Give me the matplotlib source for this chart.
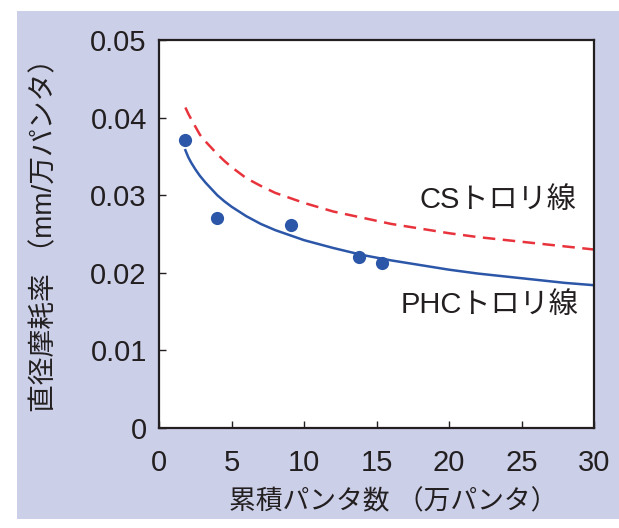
import matplotlib
matplotlib.use('Agg')
import matplotlib.pyplot as plt
from matplotlib.patches import Rectangle

plt.rcParams['font.family'] = ['Liberation Sans', 'Noto Sans CJK JP']

# measured points (PHC)
pts_x = [1.8, 4.0, 9.1, 13.8, 15.4]
pts_y = [0.0371, 0.0271, 0.0262, 0.0221, 0.0212]

# curves
curve_x = [1.8, 2.0, 2.2, 2.5, 2.8, 3.2, 3.6, 4, 4.5, 5, 6, 7, 8, 10, 12, 14, 16,
           18, 20, 22, 25, 28, 30]
phc_y = [0.0358, 0.0349, 0.0342, 0.0333, 0.0325, 0.0316, 0.0308, 0.0300, 0.0292,
         0.0285, 0.0273, 0.0263, 0.0255, 0.0242, 0.0232, 0.0223, 0.0216,
         0.0210, 0.0204, 0.0199, 0.0193, 0.0187, 0.0184]
cs_y = [0.0413, 0.0405, 0.0398, 0.0388, 0.0378, 0.0369, 0.0361, 0.0353, 0.0344,
        0.0336, 0.0322, 0.0312, 0.0303, 0.0290, 0.0279, 0.0271, 0.0263,
        0.0257, 0.0251, 0.0246, 0.0240, 0.0234, 0.0230]

xticks = [0, 5, 10, 15, 20, 25, 30]
yticks = [0, 0.01, 0.02, 0.03, 0.04, 0.05]
ytick_labels = ['0', '0.01', '0.02', '0.03', '0.04', '0.05']

txt = '#231f20'
blue = '#2c56a8'
red = '#e8333c'

fig = plt.figure(figsize=(6.19, 5.28), dpi=100)
fig.patches.append(Rectangle((17 / 619, 1 - 519 / 528), 1 - 17 / 619, (519 - 11) / 528,
                             transform=fig.transFigure, facecolor='#cbcfe8',
                             edgecolor='none', zorder=-10))

ax = fig.add_axes([159.3 / 619, 1 - 428 / 528, (594 - 159.3) / 619, 388 / 528])
ax.set_zorder(1)
ax.set_facecolor('white')

ax.plot(curve_x, cs_y, color=red, lw=1.8, dashes=(5, 3))
ax.plot(curve_x, phc_y, color=blue, lw=1.8)
ax.plot(pts_x, pts_y, 'o', color=blue, ms=9.5, mec='none')

ax.set_xlim(0, 30)
ax.set_ylim(0, 0.05)
ax.set_xticks(xticks)
ax.set_xticklabels([str(v) for v in xticks])
ax.set_yticks(yticks)
ax.set_yticklabels(ytick_labels)
ax.tick_params(direction='in', length=5, width=1, colors=txt, labelsize=21)
ax.tick_params(axis='x', pad=15)
ax.tick_params(axis='y', pad=9)
for s in ax.spines.values():
    s.set_color(txt)
    s.set_linewidth(1.6)

ax.text(28.8, 0.0294, 'CSトロリ線', ha='right', va='center', fontsize=21, color=txt)
ax.text(28.9, 0.0159, 'PHCトロリ線', ha='right', va='center', fontsize=21, color=txt)

fig.text(393 / 619, 1 - 502 / 528, '累積パンタ数 （万パンタ）', ha='center', va='center',
         fontsize=19.3, color=txt)
fig.text(45 / 619, 1 - 228 / 528, '直径摩耗率 （mm/万パンタ）', ha='center', va='center',
         rotation=90, fontsize=20, color=txt)

plt.savefig('out.png', dpi=100)
